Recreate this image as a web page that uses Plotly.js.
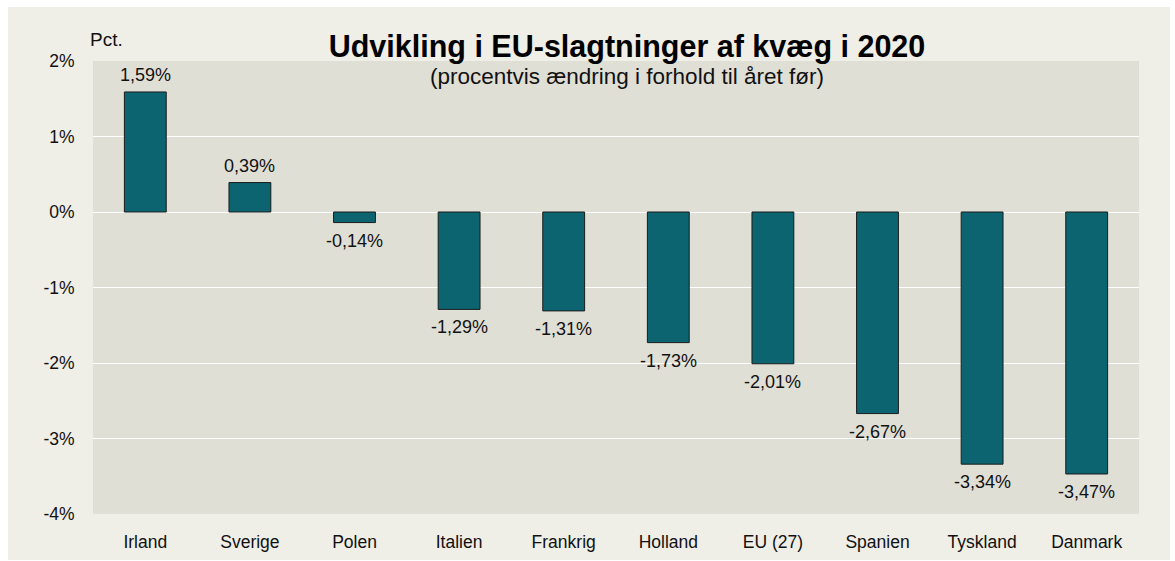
<!DOCTYPE html>
<html>
<head>
<meta charset="utf-8">
<script src="https://cdn.plot.ly/plotly-3.0.1.min.js"></script>
<style>html,body{margin:0;padding:0;background:#fff;}#chart{width:1175px;height:561px;}</style>
</head>
<body>
<div id="chart"></div>
<script>
const categories = ["Irland","Sverige","Polen","Italien","Frankrig","Holland","EU (27)","Spanien","Tyskland","Danmark"];
const values = [1.59, 0.39, -0.14, -1.29, -1.31, -1.73, -2.01, -2.67, -3.34, -3.47];
const yTickVals = [-4, -3, -2, -1, 0, 1, 2];
const yTickText = ["-4%", "-3%", "-2%", "-1%", "0%", "1%", "2%"];
const labels = values.map(v => v.toFixed(2).replace('.', ',') + '%');

const FONT = "Liberation Sans, Arial, sans-serif";
const W = 1175, H = 561;
const L = 93, R = 1139, T = 61, B = 514;
const px = x => (x - L) / (R - L);
const py = y => (B - y) / (B - T);

const trace = {
  type: 'bar',
  x: categories,
  y: values,
  marker: {color: '#0b6470', line: {color: '#1b1b1b', width: 1}},
  width: 0.4,
  hoverinfo: 'skip'
};

const labelAnnotations = categories.map((c, i) => ({
  text: labels[i], x: c, y: values[i], xref: 'x', yref: 'y',
  xanchor: 'center', yanchor: 'middle', showarrow: false,
  yshift: values[i] >= 0 ? -0 + 17 : -18,
  font: {family: FONT, size: 18, color: '#111'}
}));

const layout = {
  width: W, height: H,
  margin: {l: L, r: W - R, t: T, b: H - B},
  paper_bgcolor: '#ffffff',
  plot_bgcolor: '#e0dfd5',
  showlegend: false,
  font: {family: FONT, size: 17.5, color: '#111'},
  title: {
    text: '<b>Udvikling i EU-slagtninger af kvæg i 2020</b>',
    font: {family: FONT, size: 30.5, color: '#000'},
    x: px(627), xref: 'paper', xanchor: 'center',
    y: 1 - 46 / H, yref: 'container', yanchor: 'middle'
  },
  xaxis: {
    type: 'category',
    showgrid: false, zeroline: false, showline: false,
    ticks: 'outside', ticklen: 12, tickcolor: 'rgba(0,0,0,0)',
    tickfont: {family: FONT, size: 17.5, color: '#111'},
    fixedrange: true
  },
  yaxis: {
    range: [-4, 2],
    tickvals: yTickVals, ticktext: yTickText,
    showgrid: true, gridcolor: '#ffffff', gridwidth: 1,
    zeroline: false, showline: false,
    ticks: 'outside', ticklen: 14, tickcolor: 'rgba(0,0,0,0)',
    tickfont: {family: FONT, size: 17.5, color: '#111'},
    fixedrange: true
  },
  shapes: [{
    type: 'rect', xref: 'paper', yref: 'paper', layer: 'below',
    x0: px(8), x1: px(1170), y0: py(560), y1: py(7),
    fillcolor: '#efeee7', line: {width: 0}
  }, {
    type: 'rect', xref: 'paper', yref: 'paper', layer: 'below',
    x0: 0, x1: 1, y0: 0, y1: 1,
    fillcolor: '#e0dfd5', line: {width: 0}
  }],
  annotations: labelAnnotations.concat([
    {text: '(procentvis ændring i forhold til året før)', xref: 'paper', yref: 'paper',
     x: px(627), y: py(77), xanchor: 'center', yanchor: 'middle', showarrow: false,
     font: {family: FONT, size: 22.5, color: '#111'}},
    {text: 'Pct.', xref: 'paper', yref: 'paper',
     x: px(88), y: py(40), xanchor: 'left', yanchor: 'middle', showarrow: false,
     font: {family: FONT, size: 19, color: '#111'}}
  ])
};

Plotly.newPlot('chart', [trace], layout, {staticPlot: true, displayModeBar: false});
</script>
</body>
</html>
